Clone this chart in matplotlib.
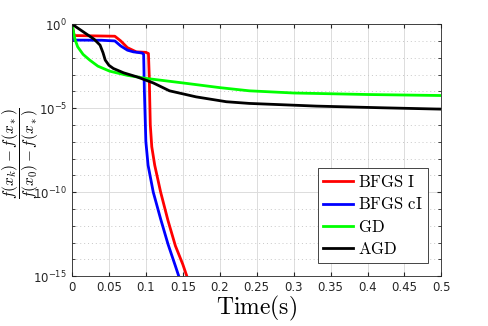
import numpy as np
import matplotlib
matplotlib.use("Agg")
import matplotlib.pyplot as plt
from matplotlib.ticker import LogLocator, FixedLocator, NullFormatter

plt.rcParams["mathtext.fontset"] = "cm"

# time (s) and log10 of the relative error
bfgs_t = [0, 0.003, 0.03, 0.058, 0.066, 0.075, 0.087, 0.1, 0.1035, 0.1045,
          0.106, 0.108, 0.112, 0.12, 0.13, 0.14, 0.15, 0.157]
bfgs_log = [0, -0.68, -0.70, -0.72, -1.0, -1.4, -1.65, -1.68, -1.75, -3.0,
            -6.0, -7.3, -8.4, -10.0, -11.7, -13.2, -14.3, -15.2]

bfgsc_t = [0, 0.003, 0.04, 0.058, 0.066, 0.075, 0.083, 0.095, 0.097, 0.098,
           0.1, 0.103, 0.11, 0.12, 0.13, 0.14, 0.146]
bfgsc_log = [0, -0.95, -0.96, -1.0, -1.3, -1.55, -1.65, -1.72, -1.8, -4.0,
             -7.0, -8.4, -10.0, -11.6, -13.1, -14.4, -15.2]

gd_t = [0, 0.004, 0.0077, 0.015, 0.024, 0.035, 0.051, 0.075, 0.1, 0.15,
        0.2, 0.24, 0.3, 0.4, 0.5]
gd_log = [0, -0.9, -1.35, -1.8, -2.14, -2.5, -2.8, -3.05, -3.23, -3.5,
          -3.78, -3.97, -4.1, -4.19, -4.25]

agd_t = [0, 0.01, 0.02, 0.03, 0.038, 0.042, 0.045, 0.05, 0.056, 0.07,
         0.088, 0.11, 0.132, 0.168, 0.209, 0.24, 0.331, 0.42, 0.5]
agd_log = [0, -0.3, -0.6, -0.9, -1.25, -1.7, -2.14, -2.45, -2.64, -2.9,
           -3.14, -3.5, -3.97, -4.33, -4.62, -4.72, -4.88, -4.98, -5.06]

labels = ["BFGS I", "BFGS cI", "GD", "AGD"]
colors = ["#ff0000", "#0000ff", "#00ff00", "#000000"]

fig = plt.figure(figsize=(4.88, 3.26), dpi=100)
ax = fig.add_axes([0.1475, 0.153, 0.757, 0.773])

series = [(bfgs_t, bfgs_log), (bfgsc_t, bfgsc_log), (gd_t, gd_log), (agd_t, agd_log)]
for (t, lg), lab, c in zip(series, labels, colors):
    ax.semilogy(t, 10.0 ** np.array(lg), color=c, lw=2, label=r"$\mathrm{" + lab.replace(" ", r"\ ") + "}$")

ax.set_xlim(0, 0.5)
ax.set_ylim(1e-15, 1)
ax.xaxis.set_major_locator(FixedLocator(np.arange(0, 0.51, 0.05)))
ax.set_xticklabels(["0", "0.05", "0.1", "0.15", "0.2", "0.25", "0.3", "0.35", "0.4", "0.45", "0.5"])
ax.yaxis.set_major_locator(FixedLocator([1e-15, 1e-10, 1e-5, 1]))
ax.yaxis.set_minor_locator(LogLocator(base=10, numticks=30))
ax.yaxis.set_minor_formatter(NullFormatter())

ax.grid(True, which="major", color="#dcdcdc", lw=0.7, ls="-")
ax.grid(True, which="minor", axis="y", color="#c8c8c8", lw=0.7, ls=(0, (1, 3)))
ax.set_axisbelow(True)

ax.tick_params(which="both", direction="in", top=True, right=True, colors="#262626",
               labelsize=8.5, length=3)
ax.tick_params(which="minor", length=2)
for s in ax.spines.values():
    s.set_color("#262626")
    s.set_linewidth(0.6)

ax.set_xlabel(r"$\mathrm{Time(s)}$", fontsize=17, labelpad=0)
ax.set_ylabel(r"$\dfrac{f(x_k)-f(x_*)}{f(x_0)-f(x_*)}$", fontsize=11)
ax.yaxis.set_label_coords(-0.085, 0.49)

leg = ax.legend(loc="lower right", fontsize=12, fancybox=False, framealpha=1,
                edgecolor="#262626", borderpad=0.3, labelspacing=0.25,
                handlelength=1.8, handletextpad=0.3, bbox_to_anchor=(0.985, 0.02))
leg.get_frame().set_linewidth(0.6)

fig.savefig("out.png", dpi=100)
